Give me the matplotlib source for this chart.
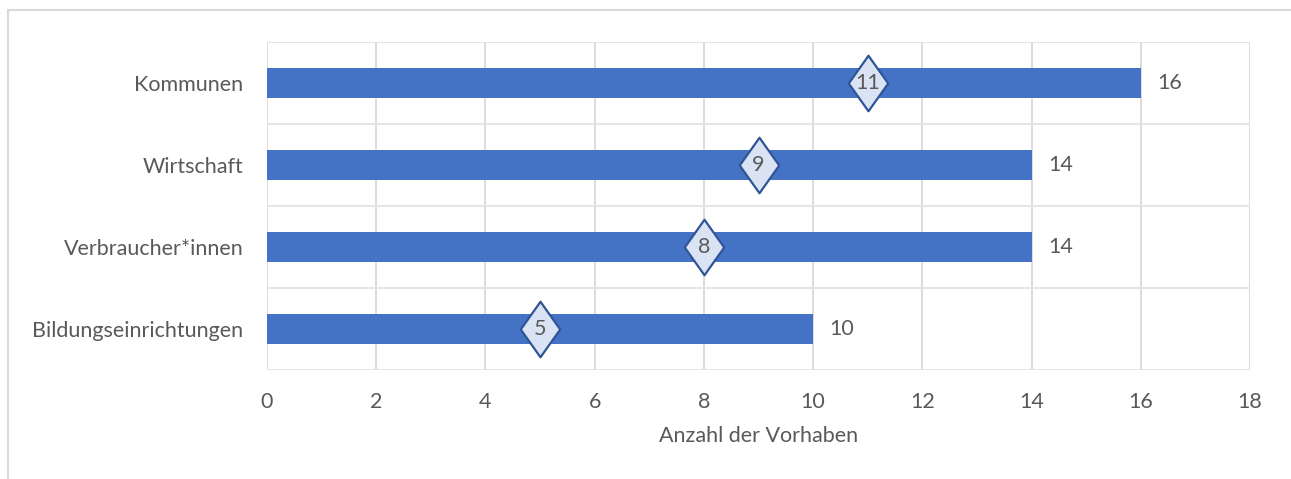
import matplotlib.pyplot as plt
from matplotlib.path import Path
from matplotlib.patches import Rectangle

categories = ['Bildungseinrichtungen', 'Verbraucher*innen', 'Wirtschaft', 'Kommunen']
totals = [10, 14, 14, 16]
markers = [5, 8, 9, 11]
xticks = [0, 2, 4, 6, 8, 10, 12, 14, 16, 18]

plt.rcParams['font.family'] = ['Lato', 'DejaVu Sans']
text_col = '#595959'
bar_col = '#4472C4'
fs = 15.5

fig = plt.figure(figsize=(12.91, 4.79), dpi=100)
ax = fig.add_axes([267 / 1291, 1 - 370 / 479, (1250 - 267) / 1291, (370 - 42) / 479])

# figure frame
fig.patches.append(Rectangle((8 / 1291, -0.01), 1.01, 1 - 10 / 479 + 0.01,
                             transform=fig.transFigure, fill=False,
                             edgecolor='#d9d9d9', linewidth=1.5))

y = range(len(categories))
ax.barh(y, totals, height=0.36, color=bar_col, zorder=3)

diamond = Path([(0, 1), (0.71, 0), (0, -1), (-0.71, 0), (0, 1)],
               [Path.MOVETO, Path.LINETO, Path.LINETO, Path.LINETO, Path.CLOSEPOLY])
ax.plot(markers, y, linestyle='none', marker=diamond, markersize=40,
        markerfacecolor='#DAE3F3', markeredgecolor='#2F5597',
        markeredgewidth=1.6, zorder=4)

for yi, m, t in zip(y, markers, totals):
    ax.text(m, yi, str(m), ha='center', va='center', fontsize=fs,
            color=text_col, zorder=5)
    ax.text(t + 0.3, yi, str(t), ha='left', va='center', fontsize=fs,
            color=text_col)

ax.set_xlim(0, 18)
ax.set_ylim(-0.5, len(categories) - 0.5)
ax.set_xticks(xticks)
ax.set_yticks(list(y))
ax.set_yticklabels(categories)
ax.set_yticks([i - 0.5 for i in range(len(categories) + 1)], minor=True)
ax.tick_params(axis='both', which='both', length=0, labelsize=fs,
               labelcolor=text_col)
ax.tick_params(axis='x', pad=16)
ax.tick_params(axis='y', pad=17)
ax.grid(axis='x', color='#d9d9d9', linewidth=1.3, zorder=0)
ax.grid(axis='y', which='minor', color='#e3e3e3', linewidth=1.3, zorder=0)
for s in ax.spines.values():
    s.set_visible(False)

ax.set_xlabel('Anzahl der Vorhaben', fontsize=fs, color=text_col, labelpad=10)

fig.savefig('out.png', dpi=100)
